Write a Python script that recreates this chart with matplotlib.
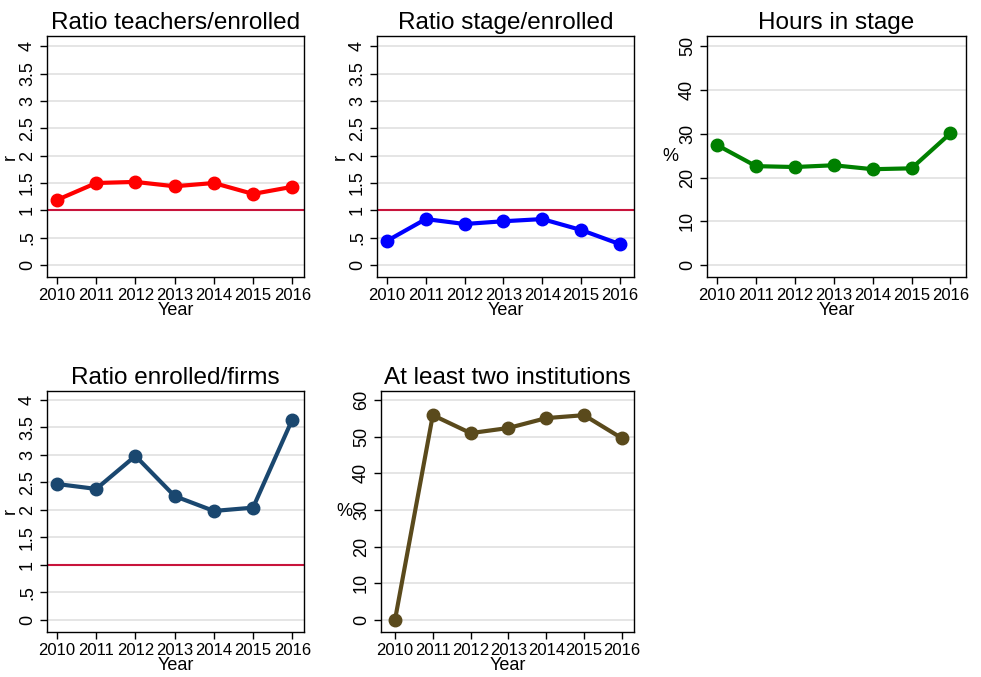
import matplotlib
matplotlib.use("Agg")
import matplotlib.pyplot as plt

plt.rcParams["font.family"] = ["Liberation Sans", "DejaVu Sans"]

years = [2010, 2011, 2012, 2013, 2014, 2015, 2016]

teachers_enrolled = [1.19, 1.50, 1.52, 1.44, 1.50, 1.30, 1.43]
stage_enrolled = [0.44, 0.84, 0.75, 0.80, 0.84, 0.64, 0.38]
hours_stage = [27.4, 22.6, 22.4, 22.8, 21.9, 22.1, 30.1]
enrolled_firms = [2.47, 2.38, 2.98, 2.25, 1.98, 2.04, 3.64]
two_institutions = [0.0, 55.9, 51.0, 52.4, 55.1, 55.9, 49.6]

ratio_ticks = [0, 0.5, 1, 1.5, 2, 2.5, 3, 3.5, 4]
ratio_labels = ["0", ".5", "1", "1.5", "2", "2.5", "3", "3.5", "4"]

W, H = 981, 677
fig = plt.figure(figsize=(W / 100, H / 100), dpi=100)


def make_axes(left, top, right, bottom):
    return fig.add_axes([left / W, 1 - bottom / H, (right - left) / W, (bottom - top) / H])


def draw_panel(ax, values, color, title, ylabel, yticks, ylabels, ylim, xlim,
               refline=None, ylabel_rot=90):
    ax.set_axisbelow(True)
    ax.grid(axis="y", color="#e0e0e0", linewidth=1.2)
    if refline is not None:
        ax.axhline(refline, color="#c8143c", linewidth=1.5, zorder=2)
    ax.plot(years, values, color=color, linewidth=3, marker="o", markersize=9, zorder=3)
    ax.set_xlim(*xlim)
    ax.set_ylim(*ylim)
    ax.set_xticks(years)
    ax.set_xticklabels([str(y) for y in years], fontsize=12)
    ax.set_yticks(yticks)
    ax.set_yticklabels(ylabels, fontsize=13, rotation=90, va="center")
    ax.tick_params(length=5, width=1, color="black", pad=3)
    ax.set_title(title, fontsize=17.5, pad=5)
    ax.set_xlabel("Year", fontsize=13, labelpad=-1)
    ax.set_ylabel(ylabel, fontsize=13, labelpad=6, rotation=ylabel_rot, va="center")
    for s in ax.spines.values():
        s.set_color("black")
        s.set_linewidth(1)


ax1 = make_axes(47, 36, 304, 277)
draw_panel(ax1, teachers_enrolled, "#ff0000", "Ratio teachers/enrolled", "r",
           ratio_ticks, ratio_labels, (-0.22, 4.19), (2009.745, 2016.3), refline=1)

ax2 = make_axes(377, 36, 634, 277)
draw_panel(ax2, stage_enrolled, "#0000ff", "Ratio stage/enrolled", "r",
           ratio_ticks, ratio_labels, (-0.22, 4.19), (2009.745, 2016.36), refline=1)

ax3 = make_axes(707, 36, 966, 277)
pct50 = [0, 10, 20, 30, 40, 50]
draw_panel(ax3, hours_stage, "#008000", "Hours in stage", "%",
           pct50, [str(t) for t in pct50], (-2.7, 52.3), (2009.74, 2016.4), ylabel_rot=0)

ax4 = make_axes(47, 391, 304, 632)
draw_panel(ax4, enrolled_firms, "#1a476f", "Ratio enrolled/firms", "r",
           ratio_ticks, ratio_labels, (-0.22, 4.16), (2009.745, 2016.3), refline=1)

ax5 = make_axes(381, 391, 634, 632)
pct60 = [0, 10, 20, 30, 40, 50, 60]
draw_panel(ax5, two_institutions, "#5a4a1c", "At least two institutions", "%",
           pct60, [str(t) for t in pct60], (-3.3, 62.5), (2009.63, 2016.32), ylabel_rot=0)

fig.savefig("out.png", dpi=100)
